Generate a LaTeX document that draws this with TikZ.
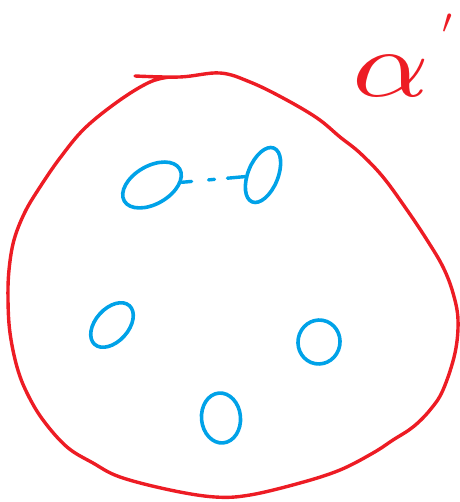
\documentclass[tikz,border=0pt]{standalone}
\usetikzlibrary{shapes.geometric}
\definecolor{pred}{HTML}{ED1C24}
\definecolor{pblue}{HTML}{00A2E8}
\begin{document}
\begin{tikzpicture}[x=1pt,y=1pt,
  redline/.style={draw=pred,line width=3.4pt,line cap=round,line join=round},
  blob/.style={draw=pblue,line width=3.6pt,ellipse,inner sep=0pt,minimum width=#1},
  dashlink/.style={draw=pblue,line width=3.4pt,line cap=round,dash pattern=on 10pt off 17pt on 6pt off 13pt on 30pt}]
\useasboundingbox (0,0) rectangle (459,502);
% outer red loop (y measured upward)
\draw[redline] plot[smooth,tension=0.6] coordinates {
 (135,426) (180,425) (220,429) (250,420) (283,404) (317,384) (340,365)
 (360,349) (383,325) (407,292) (427,262) (443,235) (453,209) (458,182)
 (455,149) (443,112) (430,92) (413,75) (393,62) (373,49) (340,32)
 (300,19) (250,7) (215,5) (170,12) (120,25) (93,39) (67,55) (43,82)
 (27,109) (17,135) (10,169) (8,202) (9,232) (14,262) (25,290) (40,315)
 (60,344) (85,374) (120,402) (150,420) (170,425)};
% blue ovals
\node[blob=64pt,minimum height=38pt,rotate=30] (e1) at (152,317) {};
\node[blob=58pt,minimum height=30pt,rotate=68] (e2) at (263,327) {};
\node[blob=52pt,minimum height=33pt,rotate=48] (e3) at (112,177) {};
\node[blob=44pt,minimum height=42pt,rotate=80] (e4) at (319,160) {};
\node[blob=50pt,minimum height=39pt,rotate=95] (e5) at (221,84) {};
\draw[dashlink] (e1) -- (e2);
% label
\node[text=pred,anchor=base west,inner sep=0pt] (lbl) at (352,405)
  {\scalebox{12}[9.5]{$\alpha$}\hspace{13pt}\raisebox{63pt}{\scalebox{3.5}{$\prime$}}};
\end{tikzpicture}
\end{document}
